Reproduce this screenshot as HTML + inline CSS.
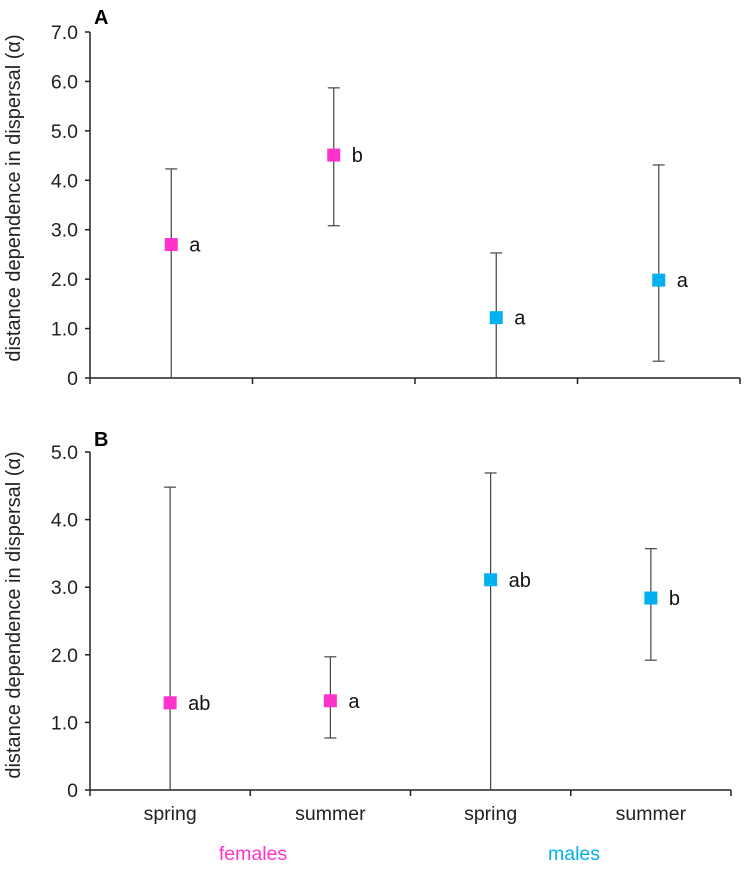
<!DOCTYPE html>
<html><head><meta charset="utf-8"><style>
body{margin:0;background:#fff;}
svg text{font-family:"Liberation Sans",Arial,sans-serif;}
</style></head><body>
<svg id="chart" width="749" height="874" xmlns="http://www.w3.org/2000/svg"></svg>
<script>
const categories = ["spring","summer","spring","summer"];
const groups = ["female","female","male","male"];
const aMeans = [2.7, 4.51, 1.22, 1.98];
const aUpper = [4.23, 5.87, 2.53, 4.31];
const aLower = [0, 3.08, 0, 0.34];
const aLetters = ["a","b","a","a"];
const aTicks = [0,1,2,3,4,5,6,7];
const bMeans = [1.29, 1.32, 3.11, 2.84];
const bUpper = [4.48, 1.97, 4.69, 3.57];
const bLower = [0, 0.77, 0, 1.92];
const bLetters = ["ab","a","ab","b"];
const bTicks = [0,1,2,3,4,5];

const NS="http://www.w3.org/2000/svg";
const svg=document.getElementById('chart');
const colors={female:"#ff33cc",male:"#00b0f0"};
function mk(tag,attrs,parent){const e=document.createElementNS(NS,tag);for(const k in attrs)e.setAttribute(k,attrs[k]);(parent||svg).appendChild(e);return e;}

function panel(cfg){
  const g=mk('g',{});
  
  
  const y=v=>cfg.y0-(v-0)/cfg.max*(cfg.y0-cfg.yTop);
  const bw=(cfg.x1-cfg.x0)/categories.length;
  const x=i=>cfg.x0+bw*(i+0.5);
  const pl=mk('text',{x:cfg.x0+4,y:cfg.labelY,'font-size':20,'font-weight':'bold'},g);
  pl.textContent=cfg.id;
  
  
  const ya=mk('line',{x1:cfg.x0,y1:y(cfg.max),x2:cfg.x0,y2:cfg.y0,stroke:'#222','stroke-width':1.5},g);
  
  
  cfg.ticks.forEach(t=>{
    mk('line',{x1:cfg.x0-5,y1:y(t),x2:cfg.x0,y2:y(t),stroke:'#222','stroke-width':1.5},g);
    const tl=mk('text',{x:cfg.x0-12,y:y(t)+7,'font-size':19.5,'text-anchor':'end',fill:'#222'},g);
    tl.textContent=t===0?'0':t.toFixed(1);
    
    
  });
  const xa=mk('line',{x1:cfg.x0,y1:cfg.y0,x2:cfg.x1,y2:cfg.y0,stroke:'#222','stroke-width':1.5},g);
  
  
  for(let i=0;i<=categories.length;i++){
    mk('line',{x1:cfg.x0+bw*i,y1:cfg.y0,x2:cfg.x0+bw*i,y2:cfg.y0+6,stroke:'#222','stroke-width':1.5},g);
  }
  const yt=mk('text',{x:0,y:0,'font-size':20,'text-anchor':'middle',fill:'#222',transform:`translate(20,${cfg.titleY}) rotate(-90)`},g);
  yt.textContent='distance dependence in dispersal (α)';
  
  
  cfg.means.forEach((m,i)=>{
    const cx=x(i);
    const eb=mk('line',{x1:cx,y1:y(cfg.upper[i]),x2:cx,y2:y(cfg.lower[i]),stroke:'#444','stroke-width':1.2},g);
    
    
    mk('line',{x1:cx-6,y1:y(cfg.upper[i]),x2:cx+6,y2:y(cfg.upper[i]),stroke:'#444','stroke-width':1.2},g);
    if(cfg.lower[i]>0) mk('line',{x1:cx-6,y1:y(cfg.lower[i]),x2:cx+6,y2:y(cfg.lower[i]),stroke:'#444','stroke-width':1.2},g);
    const pt=mk('rect',{x:cx-6.5,y:y(m)-6.5,width:13,height:13,fill:colors[groups[i]]},g);
    
    
    const lt=mk('text',{x:cx+18,y:y(m)+7,'font-size':20,fill:'#111'},g);
    lt.textContent=cfg.letters[i];
    
    
    if(cfg.xlabels){
      const xl=mk('text',{x:cx,y:cfg.y0+30,'font-size':19.5,'text-anchor':'middle',fill:'#222'},g);
      xl.textContent=categories[i];
      
      
    }
  });
}
panel({id:'A',x0:90,x1:740,y0:378,yTop:32,max:7,ticks:aTicks,means:aMeans,upper:aUpper,lower:aLower,letters:aLetters,labelY:24,xlabels:false,titleY:198});
panel({id:'B',x0:90,x1:731,y0:790,yTop:452,max:5,ticks:bTicks,means:bMeans,upper:bUpper,lower:bLower,letters:bLetters,labelY:446,xlabels:true,titleY:615});
const fl=mk('text',{x:253,y:860,'font-size':19.5,'text-anchor':'middle',fill:colors.female});
fl.textContent='females';


const ml=mk('text',{x:574,y:860,'font-size':19.5,'text-anchor':'middle',fill:colors.male});
ml.textContent='males';


</script>
</body></html>
